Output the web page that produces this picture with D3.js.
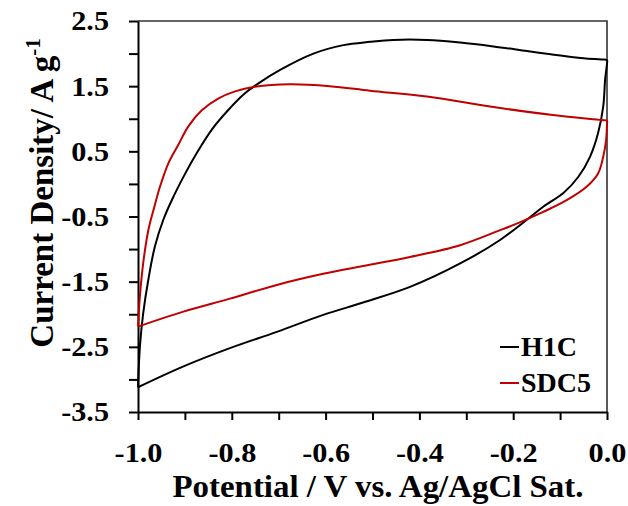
<!DOCTYPE html>
<html>
<head>
<meta charset="utf-8">
<script src="https://cdn.jsdelivr.net/npm/d3@7"></script>
<style>
  body { margin: 0; background: #fff; }
  svg text { font-family: "Times New Roman", "Liberation Serif", serif; font-weight: bold; fill: #000; }
</style>
</head>
<body>
<div id="chart"></div>
<script>
// CV loops (potential in V, current density in A/g)
const h1cPotential = [-1.000, -0.996, -0.989, -0.978, -0.964, -0.946, -0.928, -0.900, -0.875, -0.843, -0.808, -0.772, -0.744, -0.697, -0.626, -0.562, -0.505, -0.456, -0.384, -0.313, -0.242, -0.171, -0.120, -0.050, -0.012, 0.000,
  0.000, -0.004, -0.008, -0.019, -0.036, -0.061, -0.093, -0.136, -0.171, -0.228, -0.313, -0.420, -0.520, -0.605, -0.704, -0.804, -0.903, -1.000];
const h1cCurrent = [-3.12, -2.50, -1.99, -1.47, -0.96, -0.55, -0.25, 0.15, 0.47, 0.83, 1.13, 1.39, 1.54, 1.75, 2.00, 2.13, 2.18, 2.21, 2.21, 2.17, 2.11, 2.04, 1.99, 1.93, 1.91, 1.90,
  1.85, 1.60, 1.19, 0.78, 0.42, 0.11, -0.14, -0.35, -0.55, -0.86, -1.22, -1.58, -1.82, -2.01, -2.27, -2.52, -2.80, -3.12];

const sdc5Potential = [-1.000, -0.996, -0.989, -0.978, -0.967, -0.953, -0.935, -0.914, -0.893, -0.864, -0.829, -0.793, -0.751, -0.676, -0.591, -0.505, -0.384, -0.242, -0.120, -0.012, 0.000,
  0.000, -0.002, -0.008, -0.019, -0.043, -0.086, -0.136, -0.186, -0.228, -0.313, -0.420, -0.520, -0.605, -0.704, -0.804, -0.903, -1.000];
const sdc5Current = [-2.19, -1.73, -1.22, -0.71, -0.40, -0.04, 0.32, 0.60, 0.88, 1.13, 1.31, 1.42, 1.49, 1.53, 1.50, 1.43, 1.34, 1.18, 1.06, 0.98, 0.97,
  0.92, 0.67, 0.42, 0.16, -0.04, -0.25, -0.43, -0.59, -0.71, -0.94, -1.12, -1.26, -1.38, -1.55, -1.76, -1.96, -2.19];

const seriesNames = ["H1C", "SDC5"];
const seriesColors = ["#000000", "#c00000"];

const xTicks = d3.range(0, 11).map(i => -1 + i * 0.1);
const xLabels = [-1.0, -0.8, -0.6, -0.4, -0.2, 0.0];
const yTicks = d3.range(0, 13).map(i => -3.5 + i * 0.5);
const yLabels = [-3.5, -2.5, -1.5, -0.5, 0.5, 1.5, 2.5];

const width = 628, height = 506;
const margin = { top: 21, right: 21, bottom: 94, left: 138 };

const svg = d3.select("#chart").append("svg")
    .attr("width", width)
    .attr("height", height);

const x = d3.scaleLinear().domain([-1, 0]).range([margin.left, width - margin.right]);
const y = d3.scaleLinear().domain([-3.5, 2.5]).range([height - margin.bottom, margin.top]);

const isLabel = (list, v) => list.some(l => Math.abs(l - v) < 1e-6);
const fmt = v => (Math.abs(v) < 1e-9 ? 0 : v).toFixed(1);

// the picture's lettering is a bit wider than the font, stretch it sideways
function stretch(sel, sx) {
    sel.each(function() {
        const len = this.getComputedTextLength();
        if (len > 0) {
            d3.select(this).attr("textLength", len * sx).attr("lengthAdjust", "spacingAndGlyphs");
        }
    });
}

// box (top and right)
svg.append("path")
    .attr("d", `M${x(-1)},${y(2.5)}H${x(0)}V${y(-3.5)}`)
    .attr("fill", "none")
    .attr("stroke", "#333")
    .attr("stroke-width", 1.6);

// x axis
const xAxis = svg.append("g")
    .attr("transform", `translate(0,${y(-3.5)})`)
    .call(d3.axisBottom(x).tickValues(xTicks).tickSize(8).tickPadding(22).tickSizeOuter(0)
        .tickFormat(d => isLabel(xLabels, d) ? fmt(d) : ""));

// y axis
const yAxis = svg.append("g")
    .attr("transform", `translate(${x(-1)},0)`)
    .call(d3.axisLeft(y).tickValues(yTicks).tickSize(9).tickPadding(20).tickSizeOuter(0)
        .tickFormat(d => isLabel(yLabels, d) ? fmt(d) : ""));

[xAxis, yAxis].forEach(g => {
    g.select(".domain").attr("stroke", "#000").attr("stroke-width", 2);
    g.selectAll(".tick line").attr("stroke", "#000").attr("stroke-width", 2);
    g.selectAll(".tick text").attr("font-size", 28).attr("fill", "#000").call(stretch, 1.08);
});

// curves
const line = d3.line()
    .x(d => x(d[0]))
    .y(d => y(d[1]))
    .curve(d3.curveCatmullRom.alpha(0.5));

const series = [
    d3.zip(h1cPotential, h1cCurrent),
    d3.zip(sdc5Potential, sdc5Current)
];

svg.selectAll("path.cv")
    .data(series)
    .enter().append("path")
    .attr("class", "cv")
    .attr("d", line)
    .attr("fill", "none")
    .attr("stroke", (d, i) => seriesColors[i])
    .attr("stroke-width", 2)
    .attr("stroke-linejoin", "round");

// legend
const legend = svg.selectAll("g.legend")
    .data(seriesNames)
    .enter().append("g")
    .attr("class", "legend")
    .attr("transform", (d, i) => `translate(500,${347 + i * 36})`);

legend.append("line")
    .attr("x1", 0).attr("x2", 19)
    .attr("stroke", (d, i) => seriesColors[i])
    .attr("stroke-width", 2);

legend.append("text")
    .attr("x", 21)
    .attr("y", 9)
    .attr("font-size", 28)
    .text(d => d);

// axis titles
svg.append("text")
    .attr("x", 378)
    .attr("y", 497)
    .attr("text-anchor", "middle")
    .attr("font-size", 31)
    .text("Potential / V vs. Ag/AgCl Sat.")
    .attr("textLength", 411)
    .attr("lengthAdjust", "spacingAndGlyphs");

const yTitle = svg.append("text")
    .attr("transform", "translate(53,193) rotate(-90)")
    .attr("text-anchor", "middle")
    .attr("font-size", 33);
yTitle.append("tspan").text("Current Density/ A g");
yTitle.append("tspan")
    .attr("font-size", 21)
    .attr("dy", -13)
    .text("-1");
</script>
</body>
</html>
